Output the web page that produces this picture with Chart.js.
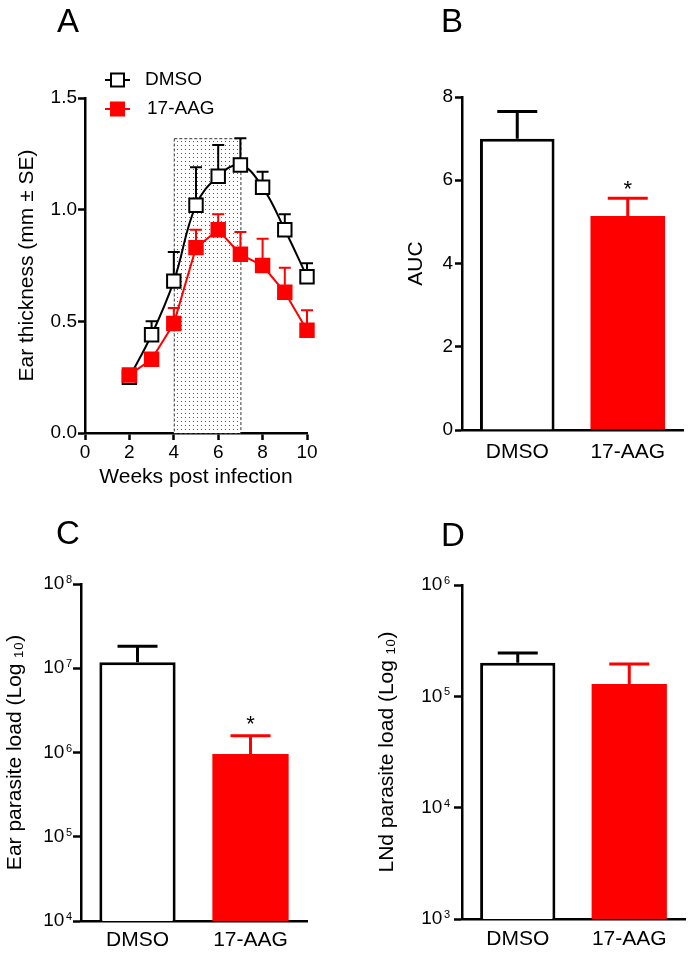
<!DOCTYPE html>
<html><head><meta charset="utf-8">
<script src="https://cdn.jsdelivr.net/npm/chart.js@4.4.1/dist/chart.umd.min.js"></script>
<style>
html,body{margin:0;padding:0;background:#fff}
body{width:690px;height:955px;position:relative;overflow:hidden;font-family:"Liberation Sans",Arial,sans-serif}
canvas{position:absolute;display:block}
.lbl{position:absolute;font-size:33px;line-height:1;color:#000;font-family:"Liberation Sans",Arial,sans-serif}
</style></head><body>
<canvas id="cA" width="345" height="490" style="left:0;top:0"></canvas>
<canvas id="cB" width="345" height="490" style="left:345px;top:0"></canvas>
<canvas id="cC" width="345" height="475" style="left:0;top:480px"></canvas>
<canvas id="cD" width="345" height="475" style="left:345px;top:480px"></canvas>
<div class="lbl" style="left:57px;top:4px">A</div>
<div class="lbl" style="left:441px;top:4px">B</div>
<div class="lbl" style="left:56px;top:516px">C</div>
<div class="lbl" style="left:441px;top:518px">D</div>
<script>
// ---------- DATA ----------
const seriesNames = ['DMSO', '17-AAG'];
const weeks = [2, 3, 4, 5, 6, 7, 8, 9, 10];
const dmsoThickness = [0.25, 0.44, 0.68, 1.02, 1.15, 1.20, 1.10, 0.91, 0.70];
const dmsoThicknessSE = [0.02, 0.06, 0.13, 0.17, 0.14, 0.12, 0.07, 0.07, 0.06];
const aagThickness = [0.26, 0.33, 0.49, 0.83, 0.91, 0.80, 0.75, 0.63, 0.46];
const aagThicknessSE = [0.01, 0.02, 0.07, 0.08, 0.07, 0.10, 0.12, 0.11, 0.09];
const treatmentWindow = [4, 7];
const treatmentWindowTop = 1.32;

const groups = ['DMSO', '17-AAG'];
const aucMean = [7.0, 5.14];
const aucSE = [0.65, 0.43];
const aucSig = ['', '*'];

const earLoadMean = [1.18e7, 9.6e5];
const earLoadSE = [6.5e6, 6.2e5];
const earSig = ['', '*'];

const lndLoadMean = [2.0e5, 1.29e5];
const lndLoadSE = [4.5e4, 6.6e4];
const lndSig = ['', ''];

const xTicksA = [0, 2, 4, 6, 8, 10];
const yTicksA = [0, 0.5, 1.0, 1.5];
const yTicksB = [0, 2, 4, 6, 8];
const logTicksC = [1e4, 1e5, 1e6, 1e7, 1e8];
const logTicksD = [1e3, 1e4, 1e5, 1e6];

// ---------- STYLE ----------
const FONT = "'Liberation Sans', Arial, sans-serif";
Chart.defaults.font.family = FONT;
Chart.defaults.color = '#000';
const RED = '#ff0000';
const BLACK = '#000000';

const axisGrid = {display: true, drawOnChartArea: false, drawTicks: true, tickLength: 7, tickWidth: 2.5, tickColor: BLACK};
const axisBorder = {display: true, color: BLACK, width: 2.5};

// ---------- PANEL A ----------
const shadePlugin = {
  id: 'shade',
  beforeDatasetsDraw(chart) {
    const {ctx, scales: {x, y}} = chart;
    const x0 = x.getPixelForValue(treatmentWindow[0]);
    const x1 = x.getPixelForValue(treatmentWindow[1]);
    const y0 = y.getPixelForValue(0);
    const y1 = y.getPixelForValue(treatmentWindowTop);
    const pc = document.createElement('canvas');
    pc.width = 4; pc.height = 4;
    const g = pc.getContext('2d');
    g.fillStyle = '#ffffff'; g.fillRect(0, 0, 4, 4);
    g.fillStyle = '#555555'; g.fillRect(1, 1, 1, 1);
    ctx.save();
    ctx.fillStyle = ctx.createPattern(pc, 'repeat');
    ctx.fillRect(x0, y1, x1 - x0, y0 - y1);
    ctx.setLineDash([3, 2]);
    ctx.strokeStyle = '#333';
    ctx.lineWidth = 1;
    ctx.strokeRect(x0 + 0.5, y1 + 0.5, x1 - x0, y0 - y1);
    ctx.restore();
  }
};

const errLinePlugin = {
  id: 'errLine',
  beforeDatasetsDraw(chart) {
    const {ctx, scales: {x, y}} = chart;
    const sets = [[dmsoThickness, dmsoThicknessSE, BLACK], [aagThickness, aagThicknessSE, RED]];
    ctx.save();
    ctx.lineWidth = 2;
    sets.forEach(([m, se, c]) => {
      ctx.strokeStyle = c;
      weeks.forEach((w, i) => {
        const px = x.getPixelForValue(w);
        const py = y.getPixelForValue(m[i]);
        const pt = y.getPixelForValue(m[i] + se[i]);
        ctx.beginPath();
        ctx.moveTo(px, py); ctx.lineTo(px, pt);
        ctx.moveTo(px - 6, pt); ctx.lineTo(px + 6, pt);
        ctx.stroke();
      });
    });
    ctx.restore();
  }
};

const legendAPlugin = {
  id: 'legA',
  afterDraw(chart) {
    const ctx = chart.ctx;
    const items = [
      {t: seriesNames[0], y: 80, c: BLACK, f: '#ffffff', tx: 145},
      {t: seriesNames[1], y: 109, c: RED, f: RED, tx: 147}
    ];
    ctx.save();
    items.forEach(it => {
      ctx.strokeStyle = it.c; ctx.lineWidth = 2;
      ctx.beginPath(); ctx.moveTo(105, it.y); ctx.lineTo(130, it.y); ctx.stroke();
      ctx.fillStyle = it.f;
      ctx.fillRect(111, it.y - 6.5, 13, 13);
      ctx.strokeRect(111, it.y - 6.5, 13, 13);
      ctx.fillStyle = BLACK;
      ctx.font = '19px ' + FONT;
      ctx.textBaseline = 'middle';
      ctx.textAlign = 'left';
      ctx.fillText(it.t, it.tx, it.y);
    });
    ctx.restore();
  }
};

new Chart(document.getElementById('cA'), {
  type: 'line',
  data: {
    datasets: [
      {
        label: seriesNames[1],
        data: weeks.map((w, i) => ({x: w, y: aagThickness[i]})),
        borderColor: RED, backgroundColor: RED,
        pointBackgroundColor: RED, pointBorderColor: RED,
        pointStyle: 'rect', pointRadius: 9.5, pointBorderWidth: 2,
        borderWidth: 2, tension: 0, order: 0, clip: false
      },
      {
        label: seriesNames[0],
        data: weeks.map((w, i) => ({x: w, y: dmsoThickness[i]})),
        borderColor: BLACK, backgroundColor: '#fff',
        pointBackgroundColor: '#fff', pointBorderColor: BLACK,
        pointStyle: 'rect', pointRadius: 9.5, pointBorderWidth: 2,
        borderWidth: 2, tension: 0.4, order: 1, clip: false
      }
    ]
  },
  options: {
    responsive: false, animation: false,
    layout: {padding: {left: 10, right: 38, top: 98, bottom: 0}},
    plugins: {legend: {display: false}, tooltip: {enabled: false}},
    scales: {
      x: {
        type: 'linear', min: 0, max: 10,
        afterBuildTicks: s => { s.ticks = xTicksA.map(v => ({value: v})); },
        ticks: {font: {size: 19}, padding: 1, color: BLACK},
        grid: axisGrid, border: axisBorder,
        title: {display: true, text: 'Weeks post infection', font: {size: 21}, padding: 0, color: BLACK},
        afterFit: s => { s.height = 57; }
      },
      y: {
        type: 'linear', min: 0, max: 1.5,
        afterBuildTicks: s => { s.ticks = yTicksA.map(v => ({value: v})); },
        ticks: {font: {size: 19}, padding: 1, color: BLACK, callback: v => Number(v).toFixed(1)},
        grid: axisGrid, border: axisBorder,
        title: {display: true, text: 'Ear thickness (mm ± SE)', font: {size: 21}, padding: {top: 5, bottom: 0}, color: BLACK},
        afterFit: s => { s.width = 75; }
      }
    }
  },
  plugins: [shadePlugin, errLinePlugin, legendAPlugin]
});

// ---------- BAR PANELS ----------
function barErrPlugin(means, ses, sigs, sigOffset) {
  return {
    id: 'barErr',
    afterDatasetsDraw(chart) {
      const {ctx, scales: {x, y}} = chart;
      const cols = [BLACK, RED];
      ctx.save();
      ctx.lineWidth = 3;
      means.forEach((m, i) => {
        const px = x.getPixelForValue(i);
        const py = y.getPixelForValue(m);
        const pt = y.getPixelForValue(m + ses[i]);
        ctx.strokeStyle = cols[i];
        ctx.beginPath();
        ctx.moveTo(px, py); ctx.lineTo(px, pt);
        ctx.moveTo(px - 20, pt); ctx.lineTo(px + 20, pt);
        ctx.stroke();
        if (sigs[i]) {
          ctx.fillStyle = BLACK;
          ctx.font = '22px ' + FONT;
          ctx.textAlign = 'center';
          ctx.textBaseline = 'alphabetic';
          ctx.fillText(sigs[i], px, pt - sigOffset);
        }
      });
      ctx.restore();
    }
  };
}

function logLabelPlugin(expRightGap) {
  return {
    id: 'logLabels',
    afterDraw(chart) {
      const y = chart.scales.y;
      const ctx = chart.ctx;
      ctx.save();
      ctx.fillStyle = BLACK;
      y.ticks.forEach(t => {
        const py = y.getPixelForValue(t.value);
        const exp = String(Math.round(Math.log10(t.value)));
        const right = y.right - expRightGap;
        ctx.textAlign = 'right';
        ctx.font = '11px ' + FONT;
        const ew = ctx.measureText(exp).width;
        ctx.textBaseline = 'alphabetic';
        ctx.fillText(exp, right, py - 1);
        ctx.font = '19px ' + FONT;
        ctx.textBaseline = 'middle';
        ctx.fillText('10', right - ew - 1.5, py);
      });
      ctx.restore();
    }
  };
}

function makeBar(id, cfg) {
  const yScale = cfg.log ? {
    type: 'logarithmic', min: cfg.min, max: cfg.max,
    afterBuildTicks: s => { s.ticks = cfg.ticks.map(v => ({value: v})); },
    ticks: {display: false},
    grid: Object.assign({}, axisGrid, {tickLength: 8}), border: axisBorder,
    title: {display: true, text: cfg.title, font: {size: 21}, padding: {top: cfg.titlePad, bottom: 0}, color: BLACK},
    afterFit: s => { s.width = cfg.yWidth; }
  } : {
    type: 'linear', min: cfg.min, max: cfg.max,
    afterBuildTicks: s => { s.ticks = cfg.ticks.map(v => ({value: v})); },
    ticks: {font: {size: 19}, padding: 2, color: BLACK},
    grid: axisGrid, border: axisBorder,
    title: {display: true, text: cfg.title, font: {size: 21}, padding: {top: cfg.titlePad, bottom: 0}, color: BLACK},
    afterFit: s => { s.width = cfg.yWidth; }
  };
  const plugins = [barErrPlugin(cfg.means, cfg.ses, cfg.sigs, cfg.sigOffset)];
  if (cfg.log) plugins.push(logLabelPlugin(cfg.expGap));
  new Chart(document.getElementById(id), {
    type: 'bar',
    data: {
      labels: groups,
      datasets: [{
        data: cfg.means,
        backgroundColor: ['#ffffff', RED],
        borderColor: [BLACK, RED],
        borderWidth: [3, 0],
        borderSkipped: 'start',
        barPercentage: 0.675,
        categoryPercentage: 1.0
      }]
    },
    options: {
      responsive: false, animation: false,
      layout: {padding: cfg.padding},
      plugins: {legend: {display: false}, tooltip: {enabled: false}},
      scales: {
        x: {
          type: 'category', z: 1,
          ticks: {font: {size: 21}, padding: cfg.xPad, color: BLACK},
          grid: {display: false, drawTicks: false},
          border: axisBorder,
          afterFit: s => { s.height = cfg.xHeight; }
        },
        y: yScale
      }
    },
    plugins: plugins
  });
}

makeBar('cB', {
  log: false, min: 0, max: 8, ticks: yTicksB, title: 'AUC', titlePad: 4,
  yWidth: 62, xHeight: 60, xPad: 10,
  padding: {left: 55, right: 7, top: 97, bottom: 0},
  means: aucMean, ses: aucSE, sigs: aucSig, sigOffset: 2
});

makeBar('cC', {
  log: true, min: 1e4, max: 1e8, ticks: logTicksC, title: 'Ear parasite load (Log ₁₀)', titlePad: 2.5,
  yWidth: 81, xHeight: 34, xPad: 7, expGap: 9,
  padding: {left: 0, right: 38, top: 104, bottom: 0},
  means: earLoadMean, ses: earLoadSE, sigs: earSig, sigOffset: 5
});

makeBar('cD', {
  log: true, min: 1e3, max: 1e6, ticks: logTicksD, title: 'LNd parasite load (Log ₁₀)', titlePad: 2.5,
  yWidth: 90, xHeight: 36, xPad: 8, expGap: 12,
  padding: {left: 27, right: 5, top: 105, bottom: 0},
  means: lndLoadMean, ses: lndLoadSE, sigs: lndSig, sigOffset: 5
});
</script>
</body></html>
